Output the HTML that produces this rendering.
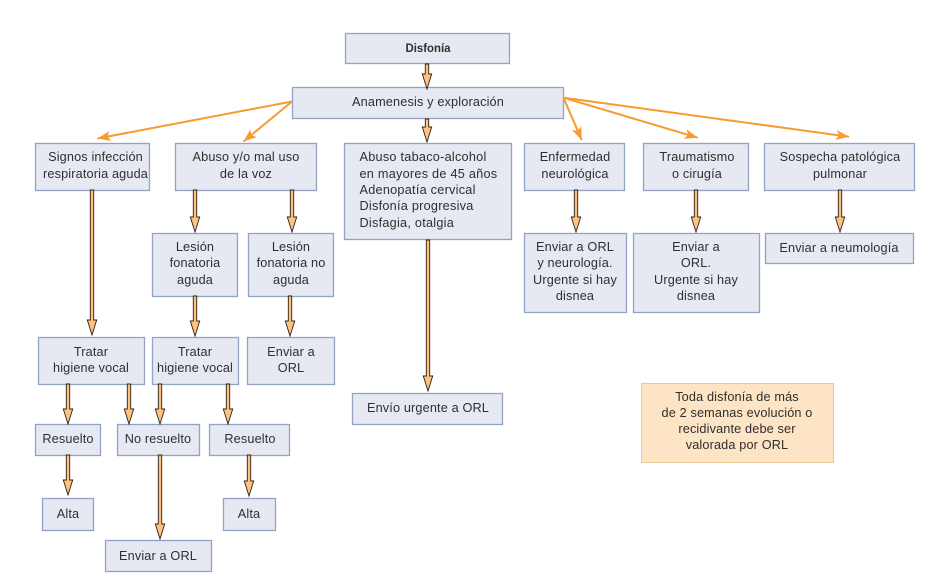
<!DOCTYPE html>
<html lang="es"><head><meta charset="utf-8"><title>Disfonía</title>
<style>
html,body{margin:0;padding:0;background:#fff}
svg{display:block}
text{font-family:"Liberation Sans",sans-serif;font-size:12.7px;letter-spacing:.15px;fill:#2f2f2f;text-anchor:middle}
.l{text-anchor:start;letter-spacing:.25px}
.b{fill:#e6e9f1;stroke:#93a3c6;stroke-width:1.3}
.n{fill:#fce4c4;stroke:#e8c89a;stroke-width:1}
.a{fill:#fdc27e;stroke:#2a211a;stroke-width:.9}
.o{fill:none;stroke:#f79a30;stroke-width:2}
</style></head><body>
<svg width="937" height="588" viewBox="0 0 937 588" xmlns="http://www.w3.org/2000/svg">
<defs><marker id="h" markerUnits="userSpaceOnUse" markerWidth="16" markerHeight="12" refX="14" refY="6" orient="auto" overflow="visible"><path d="M14 6L1 1L4 6L1 11z" fill="#f79a30"/></marker></defs>
<rect width="937" height="588" fill="#fff"/>
<g>
<rect class="b" x="345.500" y="33.500" width="164" height="30"/>
<rect class="b" x="292.500" y="87.500" width="271" height="31"/>
<rect class="b" x="35.500" y="143.500" width="114" height="47"/>
<rect class="b" x="175.500" y="143.500" width="141" height="47"/>
<rect class="b" x="344.500" y="143.500" width="167" height="96"/>
<rect class="b" x="524.500" y="143.500" width="100" height="47"/>
<rect class="b" x="643.500" y="143.500" width="105" height="47"/>
<rect class="b" x="764.500" y="143.500" width="150" height="47"/>
<rect class="b" x="152.500" y="233.500" width="85" height="63"/>
<rect class="b" x="248.500" y="233.500" width="85" height="63"/>
<rect class="b" x="524.500" y="233.500" width="102" height="79"/>
<rect class="b" x="633.500" y="233.500" width="126" height="79"/>
<rect class="b" x="765.500" y="233.500" width="148" height="30"/>
<rect class="b" x="38.500" y="337.500" width="106" height="47"/>
<rect class="b" x="152.500" y="337.500" width="86" height="47"/>
<rect class="b" x="247.500" y="337.500" width="87" height="47"/>
<rect class="b" x="35.500" y="424.500" width="65" height="31"/>
<rect class="b" x="117.500" y="424.500" width="82" height="31"/>
<rect class="b" x="209.500" y="424.500" width="80" height="31"/>
<rect class="b" x="42.500" y="498.500" width="51" height="32"/>
<rect class="b" x="223.500" y="498.500" width="52" height="32"/>
<rect class="b" x="105.500" y="540.500" width="106" height="31"/>
<rect class="b" x="352.500" y="393.500" width="150" height="31"/>
<rect class="n" x="641.500" y="383.500" width="192" height="79"/>
</g>
<g>
<path class="o" marker-end="url(#h)" d="M292 101.500L97.500 138.500"/>
<path class="o" marker-end="url(#h)" d="M292 101.500L243.500 141.500"/>
<path class="o" marker-end="url(#h)" d="M563.500 97.700L581.700 140"/>
<path class="o" marker-end="url(#h)" d="M563.500 97.700L697.700 137.700"/>
<path class="o" marker-end="url(#h)" d="M563.500 97.700L849 136.700"/>
</g>
<g>
<path class="a" d="M425.300 64h3.400V74h3l-4.700 15l-4.700 -15h3z"/>
<path class="a" d="M425.300 119h3.400V127h3l-4.700 15l-4.700 -15h3z"/>
<path class="a" d="M90.300 190h3.400V320h3l-4.700 15l-4.700 -15h3z"/>
<path class="a" d="M193.300 190h3.400V217h3l-4.700 15l-4.700 -15h3z"/>
<path class="a" d="M290.300 190h3.400V217h3l-4.700 15l-4.700 -15h3z"/>
<path class="a" d="M193.300 296h3.400V321h3l-4.700 15l-4.700 -15h3z"/>
<path class="a" d="M288.300 296h3.400V321h3l-4.700 15l-4.700 -15h3z"/>
<path class="a" d="M426.300 240h3.400V376h3l-4.700 15l-4.700 -15h3z"/>
<path class="a" d="M574.300 190h3.400V217h3l-4.700 15l-4.700 -15h3z"/>
<path class="a" d="M694.300 190h3.400V217h3l-4.700 15l-4.700 -15h3z"/>
<path class="a" d="M838.300 190h3.400V217h3l-4.700 15l-4.700 -15h3z"/>
<path class="a" d="M66.300 384h3.400V409h3l-4.700 15l-4.700 -15h3z"/>
<path class="a" d="M127.300 384h3.400V409h3l-4.700 15l-4.700 -15h3z"/>
<path class="a" d="M158.300 384h3.400V409h3l-4.700 15l-4.700 -15h3z"/>
<path class="a" d="M226.300 384h3.400V409h3l-4.700 15l-4.700 -15h3z"/>
<path class="a" d="M66.300 455h3.400V480h3l-4.700 15l-4.700 -15h3z"/>
<path class="a" d="M158.300 455h3.400V524h3l-4.700 15l-4.700 -15h3z"/>
<path class="a" d="M247.300 455h3.400V481h3l-4.700 15l-4.700 -15h3z"/>
</g>
<g>
<text x="428" y="52" style="font-weight:bold;font-size:11.5px;letter-spacing:0" textLength="45" lengthAdjust="spacingAndGlyphs">Disfonía</text>
<text x="428" y="106" textLength="152" lengthAdjust="spacingAndGlyphs">Anamenesis y exploración</text>
<text x="95.500" y="161">Signos infección</text>
<text x="95.500" y="178">respiratoria aguda</text>
<text x="246" y="161">Abuso y/o mal uso</text>
<text x="246" y="178">de la voz</text>
<text class="l" x="359.500" y="161">Abuso tabaco-alcohol</text>
<text class="l" x="359.500" y="178">en mayores de 45 años</text>
<text class="l" x="359.500" y="194">Adenopatía cervical</text>
<text class="l" x="359.500" y="210">Disfonía progresiva</text>
<text class="l" x="359.500" y="227">Disfagia, otalgia</text>
<text x="575" y="161">Enfermedad</text>
<text x="575" y="178">neurológica</text>
<text x="697" y="161">Traumatismo</text>
<text x="697" y="178">o cirugía</text>
<text x="840" y="161">Sospecha patológica</text>
<text x="840" y="178">pulmonar</text>
<text x="195" y="251">Lesión</text>
<text x="195" y="267">fonatoria</text>
<text x="195" y="284">aguda</text>
<text x="291" y="251">Lesión</text>
<text x="291" y="267">fonatoria no</text>
<text x="291" y="284">aguda</text>
<text x="575" y="251">Enviar a ORL</text>
<text x="575" y="267">y neurología.</text>
<text x="575" y="284">Urgente si hay</text>
<text x="575" y="300">disnea</text>
<text x="696" y="251">Enviar a</text>
<text x="696" y="267">ORL.</text>
<text x="696" y="284">Urgente si hay</text>
<text x="696" y="300">disnea</text>
<text x="839" y="252">Enviar a neumología</text>
<text x="91" y="356">Tratar</text>
<text x="91" y="372">higiene vocal</text>
<text x="195" y="356">Tratar</text>
<text x="195" y="372">higiene vocal</text>
<text x="291" y="356">Enviar a</text>
<text x="291" y="372">ORL</text>
<text x="68" y="443">Resuelto</text>
<text x="158" y="443">No resuelto</text>
<text x="250" y="443">Resuelto</text>
<text x="68" y="518">Alta</text>
<text x="249" y="518">Alta</text>
<text x="158" y="560">Enviar a ORL</text>
<text x="428" y="412">Envío urgente a ORL</text>
<text x="737" y="401">Toda disfonía de más</text>
<text x="737" y="417">de 2 semanas evolución o</text>
<text x="737" y="433">recidivante debe ser</text>
<text x="737" y="449">valorada por ORL</text>
</g>
</svg>
</body></html>
